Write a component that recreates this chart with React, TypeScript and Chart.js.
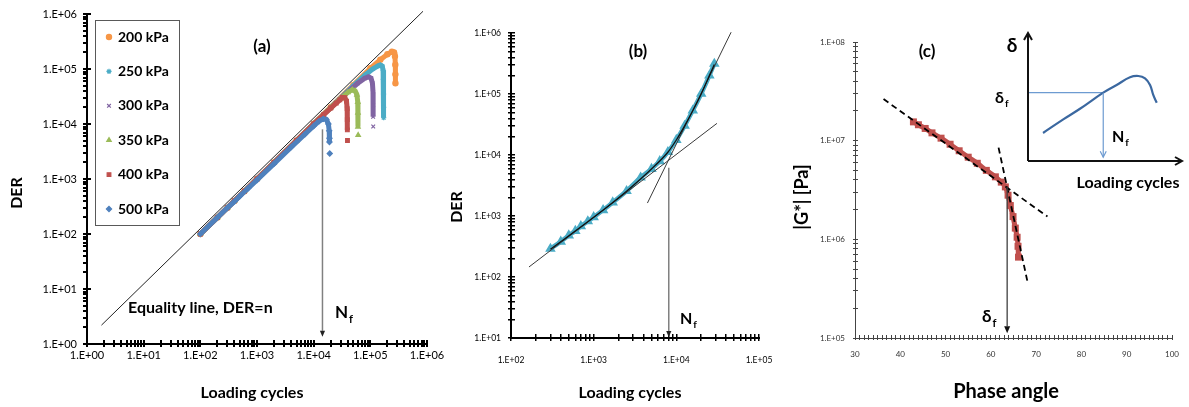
import React, { useEffect, useRef } from 'react';
import { Chart, registerables } from 'chart.js';
import { drawPoint } from 'chart.js/helpers';

Chart.register(...registerables);

const FONT = 'Lato, "Open Sans", "DejaVu Sans", sans-serif';

// ================= Panel (a) =================
const aSeriesNames = ['200 kPa', '250 kPa', '300 kPa', '350 kPa', '400 kPa', '500 kPa'];
const aSeriesColors = ['#F79646', '#4BACC6', '#8064A2', '#9BBB59', '#C0504D', '#4F81BD'];
const aSeriesMarkers = ['circle', 'star', 'crossRot', 'triangle', 'rect', 'rectRot'];

const cycles200 = [100, 200, 300, 400, 600, 1000, 2000, 5000, 10000, 20000, 50000, 100000, 150000, 200000, 240000, 262000, 272000, 276000, 277000, 277500];
const der200 = [100, 200, 300, 400, 600, 1000, 2000, 5000, 10100, 20300, 51000, 103000, 148000, 185000, 206000, 200000, 170000, 120000, 80000, 55000];

const cycles250 = [100, 200, 300, 400, 600, 1000, 2000, 5000, 10000, 20000, 50000, 80000, 110000, 135000, 150000, 162000, 168000, 170000, 171000, 171500, 172000];
const der250 = [100, 200, 300, 400, 600, 1000, 2000, 5000, 10000, 20000, 49500, 77000, 100000, 113000, 118000, 113000, 95000, 65000, 35000, 20000, 13000];

const cycles300 = [100, 200, 300, 400, 600, 1000, 2000, 5000, 10000, 20000, 40000, 60000, 80000, 93000, 103000, 109000, 111500, 112000, 112000, 112000, 112500];
const der300 = [100, 200, 300, 400, 600, 1000, 2000, 5000, 10000, 19800, 38500, 55000, 68000, 72000, 68000, 55000, 38000, 22000, 13500, null, 9000];

const cycles350 = [100, 200, 300, 400, 600, 1000, 2000, 5000, 10000, 20000, 30000, 40000, 48000, 54000, 58000, 60000, 60500, 60500, 60500, 61000];
const der350 = [100, 200, 300, 400, 600, 1000, 2000, 5000, 10000, 19800, 29000, 37500, 42000, 40000, 34000, 25000, 16000, 8900, null, 6300];

const cycles400 = [100, 200, 300, 400, 600, 1000, 2000, 5000, 10000, 15000, 20000, 25000, 29000, 32000, 35500, 38000, 39000, 39200, 39300, 39300, 39500];
const der400 = [100, 200, 300, 400, 600, 1000, 2000, 5000, 10000, 14800, 19500, 24000, 27500, 30500, 30000, 26000, 19000, 12000, 7800, null, 5000];

const cycles500 = [100, 200, 300, 400, 500, 700, 1000, 2000, 4000, 7000, 10000, 12500, 14800, 16800, 18200, 18800, 19000, 19000, 19000, 19200];
const der500 = [100, 200, 300, 390, 490, 680, 960, 1900, 3800, 6500, 9200, 11300, 12400, 12000, 10000, 7500, 5500, 4700, null, 2900];

const aCycles = [cycles200, cycles250, cycles300, cycles350, cycles400, cycles500];
const aDer = [der200, der250, der300, der350, der400, der500];

const eqCycles = [1.8, 850000];
const eqDer = [2.2, 1120000];

const aNf = 14300;
const aNfArrowFrom = 8000;
const aNfArrowTo = 1.35;

const aAxisLabels = ['1.E+00', '1.E+01', '1.E+02', '1.E+03', '1.E+04', '1.E+05', '1.E+06'];

// ================= Panel (b) =================
const bCycles = [300, 400, 500, 600, 700, 850, 1000, 1300, 1700, 2500, 3700, 5000, 6300, 7900, 10000, 12600, 15800, 20000, 25100, 28800];
const bDer = [290, 380, 480, 570, 680, 820, 955, 1250, 1670, 2570, 4270, 5930, 7910, 11200, 17700, 30100, 53500, 101000, 201000, 313000];

const bFitCycles = [300, 1000, 2500, 5000, 7900, 10000, 12600, 15800, 20000, 25100, 28800];
const bFitDer = [285, 950, 2550, 5900, 11100, 17600, 30000, 53000, 100000, 200000, 305000];

const bTangent1Cycles = [165, 31000];
const bTangent1Der = [146, 33000];
const bTangent2Cycles = [4470, 46000];
const bTangent2Der = [1630, 1030000];

const bNf = 8100;
const bNfArrowFrom = 6200;
const bNfArrowTo = 10.4;

const bXLabels = ['1.E+02', '1.E+03', '1.E+04', '1.E+05'];
const bYLabels = ['1.E+01', '1.E+02', '1.E+03', '1.E+04', '1.E+05', '1.E+06'];

// ================= Panel (c) =================
const cPhase = [42.9, 44, 45.5, 47, 49, 51, 53, 55, 57, 59, 61, 62.3, 63.2, 63.8, 64.3, 64.9, 65.4, 65.8, 66.0, 66.1];
const cModulus = [1.55e7, 1.45e7, 1.33e7, 1.2e7, 1.06e7, 9.2e6, 7.9e6, 6.8e6, 5.9e6, 5.0e6, 4.3e6, 3.8e6, 3.4e6, 2.8e6, 2.2e6, 1.7e6, 1.3e6, 1.05e6, 8.5e5, 6.6e5];

const cFitAPhase = [36.3, 72.5];
const cFitAModulus = [2.64e7, 1.7e6];
const cFitBPhase = [61.7, 68.1];
const cFitBModulus = [8.5e6, 3.7e5];

const cDeltaF = 63.6;
const cArrowFrom = 3.4e6;
const cArrowTo = 1.12e5;

const cXLabels = ['30', '40', '50', '60', '70', '80', '90', '100'];
const cYLabels = ['1.E+05', '1.E+06', '1.E+07', '1.E+08'];

// ================= Inset =================
const insetCycles = [0.99, 2.32, 3.42, 4.95, 5.83, 6.71, 7.26, 7.7, 8.03, 8.24, 8.47];
const insetDelta = [2.19, 3.25, 4.08, 5.34, 5.94, 6.54, 6.64, 6.46, 5.94, 5.16, 4.55];
const insetNf = 4.95;
const insetDeltaF = 5.34;
const insetGuideX = [0, insetNf];
const insetGuideY = [insetDeltaF, insetDeltaF];

// ================= helpers =================
type Txt = {
  text: string;
  sub?: string;
  x: number;
  y: number;
  size: number;
  bold?: boolean;
  rot?: number;
  align?: 'left' | 'center' | 'right';
  color?: string;
};

function drawTexts(ctx: CanvasRenderingContext2D, items: Txt[]) {
  items.forEach((it) => {
    ctx.save();
    ctx.translate(it.x, it.y);
    if (it.rot) ctx.rotate(it.rot);
    const weight = it.bold === false ? '' : 'bold ';
    const mainFont = `${weight}${it.size}px ${FONT}`;
    const subSize = Math.round(it.size * 0.65);
    const subFont = `${weight}${subSize}px ${FONT}`;
    ctx.font = mainFont;
    const w = ctx.measureText(it.text).width;
    let sw = 0;
    if (it.sub) {
      ctx.font = subFont;
      sw = ctx.measureText(it.sub).width + 1;
    }
    const total = w + sw;
    const start = it.align === 'center' ? -total / 2 : it.align === 'right' ? -total : 0;
    ctx.fillStyle = it.color || '#000';
    ctx.textBaseline = 'middle';
    ctx.textAlign = 'left';
    ctx.font = mainFont;
    ctx.fillText(it.text, start, 0);
    if (it.sub) {
      ctx.font = subFont;
      ctx.fillText(it.sub, start + w + 1, it.size * 0.38);
    }
    ctx.restore();
  });
}

function drawArrow(
  ctx: CanvasRenderingContext2D,
  x0: number, y0: number, x1: number, y1: number,
  color: string, width: number, headColor: string,
  headLen = 7, headHalf = 3.2, open = false,
) {
  const ang = Math.atan2(y1 - y0, x1 - x0);
  const bx = x1 - headLen * Math.cos(ang);
  const by = y1 - headLen * Math.sin(ang);
  ctx.save();
  ctx.strokeStyle = color;
  ctx.lineWidth = width;
  ctx.beginPath();
  ctx.moveTo(x0, y0);
  ctx.lineTo(open ? x1 : bx, open ? y1 : by);
  ctx.stroke();
  const lx = bx + headHalf * Math.sin(ang);
  const ly = by - headHalf * Math.cos(ang);
  const rx = bx - headHalf * Math.sin(ang);
  const ry = by + headHalf * Math.cos(ang);
  if (open) {
    ctx.strokeStyle = headColor;
    ctx.beginPath();
    ctx.moveTo(lx, ly);
    ctx.lineTo(x1, y1);
    ctx.lineTo(rx, ry);
    ctx.stroke();
  } else {
    ctx.fillStyle = headColor;
    ctx.beginPath();
    ctx.moveTo(x1, y1);
    ctx.lineTo(lx, ly);
    ctx.lineTo(rx, ry);
    ctx.closePath();
    ctx.fill();
  }
  ctx.restore();
}

function logTickValues(minExp: number, maxExp: number) {
  const out: number[] = [];
  for (let e = minExp; e < maxExp; e++) {
    for (let m = 1; m < 10; m++) out.push(m * Math.pow(10, e));
  }
  out.push(Math.pow(10, maxExp));
  return out;
}

function isDecade(v: number) {
  const l = Math.log10(v);
  return Math.abs(l - Math.round(l)) < 1e-9;
}

function decadeLabel(v: number, labels: string[], minExp: number) {
  if (!isDecade(v)) return '';
  const e = Math.round(Math.log10(v));
  return labels[e - minExp] ?? '';
}

function fixSize(width?: number, height?: number) {
  return (s: any) => {
    if (width !== undefined) s.width = width;
    if (height !== undefined) s.height = height;
    s.paddingLeft = 0;
    s.paddingRight = 0;
    s.paddingTop = 0;
    s.paddingBottom = 0;
  };
}

// native Chart.js tick marks only (no grid lines on the chart area)
const tickGrid = (color: string, len: number, width: number) => ({
  display: true,
  drawOnChartArea: false,
  drawTicks: true,
  tickLength: len,
  color,
  tickColor: color,
  tickWidth: width,
  lineWidth: width,
});

function logAxis(o: {
  min: number; max: number; minExp: number; maxExp: number; labels: string[];
  size: number; padding: number; width?: number; height?: number; color: string;
  tickColor: string; tickLen: number; tickWidth: number;
}) {
  const values = logTickValues(o.minExp, o.maxExp);
  return {
    type: 'logarithmic',
    min: o.min,
    max: o.max,
    grid: tickGrid(o.tickColor, o.tickLen, o.tickWidth),
    border: { display: false },
    ticks: {
      autoSkip: false,
      maxRotation: 0,
      minRotation: 0,
      padding: o.padding,
      color: o.color,
      font: { family: FONT, size: o.size },
      callback: (v: number) => decadeLabel(Number(v), o.labels, o.minExp),
    },
    afterBuildTicks: (s: any) => {
      s.ticks = values.map((value) => ({ value }));
    },
    afterFit: fixSize(o.width, o.height),
  };
}

type AxisSide = { values: number[]; majIn: number; minIn: number; major: 'decade' | 'ten' };
type AxisCfg = { color: string; axisWidth: number; tickWidth: number; x: AxisSide; y: AxisSide };

function isMajorTick(v: number, kind: 'decade' | 'ten') {
  return kind === 'decade' ? isDecade(v) : Math.abs(v % 10) < 1e-9;
}

// axis lines plus the inward half of the tick marks
function drawAxes(chart: any, cfg: AxisCfg) {
  const ctx: CanvasRenderingContext2D = chart.ctx;
  const ca = chart.chartArea;
  const xs = chart.scales.x;
  const ys = chart.scales.y;
  const tw = cfg.tickWidth;
  const aw = cfg.axisWidth;
  ctx.save();
  ctx.fillStyle = cfg.color;
  ctx.fillRect(Math.round(ca.left - aw / 2), ca.top, aw, ca.bottom - ca.top + aw / 2);
  ctx.fillRect(Math.round(ca.left - aw / 2), Math.round(ca.bottom - aw / 2), ca.right - ca.left + aw, aw);
  cfg.x.values.forEach((v) => {
    const px = Math.round(xs.getPixelForValue(v) - tw / 2);
    const up = isMajorTick(v, cfg.x.major) ? cfg.x.majIn : cfg.x.minIn;
    if (up > 0) ctx.fillRect(px, Math.round(ca.bottom - up), tw, Math.round(up));
  });
  cfg.y.values.forEach((v) => {
    const py = Math.round(ys.getPixelForValue(v) - tw / 2);
    const inn = isMajorTick(v, cfg.y.major) ? cfg.y.majIn : cfg.y.minIn;
    if (inn > 0) ctx.fillRect(Math.round(ca.left), py, Math.round(inn), tw);
  });
  ctx.restore();
}

function overlayPlugin(draw: (chart: any) => void) {
  return { id: 'overlayDraw', afterDraw: draw };
}

const baseOptions = (padding: any) => ({
  animation: false,
  responsive: false,
  maintainAspectRatio: false,
  events: [],
  layout: { padding },
  plugins: { legend: { display: false }, tooltip: { enabled: false }, title: { display: false } },
});

const pairs = (xs: number[], ys: (number | null)[]) => xs.map((x, i) => ({ x, y: ys[i] }));

// ================= chart builders =================
function buildA(canvas: HTMLCanvasElement) {
  const drawOrder = [5, 4, 3, 2, 1, 0];
  const datasets: any[] = [
    {
      label: 'Equality line, DER=n',
      data: pairs(eqCycles, eqDer),
      borderColor: '#222',
      borderWidth: 1,
      pointRadius: 0,
      clip: false,
    },
  ];
  drawOrder.forEach((s) => {
    datasets.push({
      label: aSeriesNames[s],
      data: pairs(aCycles[s], aDer[s]),
      borderColor: aSeriesColors[s],
      backgroundColor: aSeriesColors[s],
      borderWidth: 5,
      pointRadius: 2.6,
      pointStyle: aSeriesMarkers[s],
      pointBorderWidth: 1.2,
      pointBackgroundColor: aSeriesColors[s],
      pointBorderColor: aSeriesColors[s],
      spanGaps: false,
    });
  });

  const texts: Txt[] = [
    { text: '(a)', x: 262, y: 47, size: 17, align: 'center' },
    { text: 'DER', x: 17, y: 193, size: 16, align: 'center', rot: -Math.PI / 2 },
    { text: 'Loading cycles', x: 252, y: 393, size: 16, align: 'center' },
    { text: 'Equality line, DER=n', x: 128, y: 308, size: 16 },
    { text: 'N', sub: 'f', x: 335, y: 313, size: 17 },
  ];
  const tickValues = logTickValues(0, 6);
  const axisCfg: AxisCfg = {
    color: '#000', axisWidth: 2, tickWidth: 2,
    x: { values: tickValues, majIn: 4, minIn: 4, major: 'decade' },
    y: { values: tickValues, majIn: 4, minIn: 0, major: 'decade' },
  };

  return new Chart(canvas, {
    type: 'line',
    data: { datasets },
    options: {
      ...baseOptions({ left: 0, top: 14, right: 28, bottom: 0 }),
      scales: {
        x: logAxis({ min: 1, max: 1e6, minExp: 0, maxExp: 6, labels: aAxisLabels, size: 11, padding: 2, height: 63, color: '#000', tickColor: '#000', tickLen: 3, tickWidth: 2 }),
        y: logAxis({ min: 1, max: 1e6, minExp: 0, maxExp: 6, labels: aAxisLabels, size: 11, padding: 6, width: 87, color: '#000', tickColor: '#000', tickLen: 4, tickWidth: 2 }),
      },
    } as any,
    plugins: [
      overlayPlugin((chart: any) => {
        drawAxes(chart, axisCfg);
        const { ctx, scales } = chart;
        const px = scales.x.getPixelForValue(aNf);
        drawArrow(ctx, px, scales.y.getPixelForValue(aNfArrowFrom), px, scales.y.getPixelForValue(aNfArrowTo), '#808080', 1.5, '#222', 6, 2.6);
        // legend
        ctx.save();
        ctx.strokeStyle = '#595959';
        ctx.lineWidth = 1;
        ctx.strokeRect(95.5, 20.5, 84, 205);
        aSeriesNames.forEach((name, i) => {
          const cy = 37 + i * 34.4;
          ctx.fillStyle = aSeriesColors[i];
          ctx.strokeStyle = aSeriesColors[i];
          ctx.lineWidth = 1.2;
          drawPoint(ctx, { pointStyle: aSeriesMarkers[i] as any, radius: 2.6, rotation: 0, borderWidth: 1.2 } as any, 109, cy);
          drawTexts(ctx, [{ text: name, x: 118, y: cy, size: 14 }]);
        });
        ctx.restore();
        drawTexts(ctx, texts);
      }),
    ],
  });
}

function buildB(canvas: HTMLCanvasElement) {
  const datasets: any[] = [
    {
      label: 'Fit',
      data: pairs(bFitCycles, bFitDer),
      borderColor: '#111',
      borderWidth: 1.3,
      pointRadius: 0,
      cubicInterpolationMode: 'monotone',
    },
    {
      label: 'Tangent 1',
      data: pairs(bTangent1Cycles, bTangent1Der),
      borderColor: '#3a3a3a',
      borderWidth: 1,
      pointRadius: 0,
      clip: false,
    },
    {
      label: 'Tangent 2',
      data: pairs(bTangent2Cycles, bTangent2Der),
      borderColor: '#3a3a3a',
      borderWidth: 1,
      pointRadius: 0,
      clip: false,
    },
    {
      label: 'DER',
      data: pairs(bCycles, bDer),
      borderColor: '#4BACC6',
      backgroundColor: '#4BACC6',
      borderWidth: 4.5,
      pointRadius: 1.6,
      pointStyle: 'triangle',
      pointBackgroundColor: '#4BACC6',
      pointBorderColor: '#4BACC6',
      cubicInterpolationMode: 'monotone',
    },
  ];
  const texts: Txt[] = [
    { text: '(b)', x: 198, y: 52, size: 17, align: 'center' },
    { text: 'DER', x: 17, y: 207, size: 16, align: 'center', rot: -Math.PI / 2 },
    { text: 'Loading cycles', x: 190, y: 393, size: 16, align: 'center' },
    { text: 'N', sub: 'f', x: 240, y: 319, size: 16 },
  ];
  const axisCfg: AxisCfg = {
    color: '#000', axisWidth: 2, tickWidth: 1.5,
    x: { values: logTickValues(2, 5), majIn: 4, minIn: 4, major: 'decade' },
    y: { values: logTickValues(1, 6), majIn: 4, minIn: 4, major: 'decade' },
  };
  return new Chart(canvas, {
    type: 'line',
    data: { datasets },
    options: {
      ...baseOptions({ left: 0, top: 33, right: 21, bottom: 0 }),
      scales: {
        x: logAxis({ min: 100, max: 1e5, minExp: 2, maxExp: 5, labels: bXLabels, size: 8.5, padding: 14, height: 69, color: '#000', tickColor: '#000', tickLen: 3, tickWidth: 1.5 }),
        y: logAxis({ min: 10, max: 1e6, minExp: 1, maxExp: 6, labels: bYLabels, size: 8.5, padding: 7, width: 71, color: '#000', tickColor: '#000', tickLen: 3, tickWidth: 1.5 }),
      },
    } as any,
    plugins: [
      overlayPlugin((chart: any) => {
        drawAxes(chart, axisCfg);
        const { ctx, scales } = chart;
        const px = scales.x.getPixelForValue(bNf);
        drawArrow(ctx, px, scales.y.getPixelForValue(bNfArrowFrom), px, scales.y.getPixelForValue(bNfArrowTo), '#7f7f7f', 1.5, '#222', 6, 2.6);
        drawTexts(ctx, texts);
      }),
    ],
  });
}

function buildC(canvas: HTMLCanvasElement) {
  const xValues: number[] = [];
  for (let v = 30; v <= 100; v++) xValues.push(v);
  const datasets: any[] = [
    {
      label: 'Fit A',
      data: pairs(cFitAPhase, cFitAModulus),
      borderColor: '#000',
      borderWidth: 1.8,
      borderDash: [6, 4],
      pointRadius: 0,
    },
    {
      label: 'Fit B',
      data: pairs(cFitBPhase, cFitBModulus),
      borderColor: '#000',
      borderWidth: 1.8,
      borderDash: [6, 4],
      pointRadius: 0,
    },
    {
      label: '|G*|',
      data: pairs(cPhase, cModulus),
      borderColor: '#C0504D',
      backgroundColor: '#C0504D',
      borderWidth: 5,
      pointRadius: 1.4,
      pointStyle: 'rect',
      pointBackgroundColor: '#C0504D',
      pointBorderColor: '#C0504D',
      cubicInterpolationMode: 'monotone',
    },
  ];
  const texts: Txt[] = [
    { text: '(c)', x: 147, y: 52, size: 17, align: 'center' },
    { text: '|G*| [Pa]', x: 22, y: 197, size: 18, align: 'center', rot: -Math.PI / 2 },
    { text: 'Phase angle', x: 226, y: 392, size: 20, align: 'center' },
    { text: 'δ', sub: 'f', x: 202, y: 317, size: 17 },
  ];
  const axisCfg: AxisCfg = {
    color: '#444', axisWidth: 1, tickWidth: 1,
    x: { values: xValues, majIn: 3, minIn: 3, major: 'ten' },
    y: { values: logTickValues(5, 8), majIn: 3, minIn: 3, major: 'decade' },
  };
  return new Chart(canvas, {
    type: 'line',
    data: { datasets },
    options: {
      ...baseOptions({ left: 0, top: 42, right: 17, bottom: 0 }),
      scales: {
        x: {
          type: 'linear',
          min: 30,
          max: 100,
          grid: tickGrid('#444', 2, 1),
          border: { display: false },
          ticks: {
            autoSkip: false,
            maxRotation: 0,
            minRotation: 0,
            padding: 10,
            color: '#333',
            font: { family: FONT, size: 8 },
            callback: (v: number) => (Number(v) % 10 === 0 ? cXLabels[(Number(v) - 30) / 10] : ''),
          },
          afterBuildTicks: (s: any) => {
            s.ticks = xValues.map((value) => ({ value }));
          },
          afterFit: fixSize(undefined, 69),
        },
        y: logAxis({ min: 1e5, max: 1e8, minExp: 5, maxExp: 8, labels: cYLabels, size: 8, padding: 8, width: 75, color: '#333', tickColor: '#444', tickLen: 2, tickWidth: 1 }),
      },
    } as any,
    plugins: [
      overlayPlugin((chart: any) => {
        drawAxes(chart, axisCfg);
        const { ctx, scales } = chart;
        const px = scales.x.getPixelForValue(cDeltaF);
        drawArrow(ctx, px, scales.y.getPixelForValue(cArrowFrom), px, scales.y.getPixelForValue(cArrowTo), '#404040', 1.3, '#111', 7, 3);
        drawTexts(ctx, texts);
      }),
    ],
  });
}

function buildInset(canvas: HTMLCanvasElement) {
  const datasets: any[] = [
    {
      label: 'δ',
      data: pairs(insetCycles, insetDelta),
      borderColor: '#3B68A0',
      borderWidth: 2.2,
      pointRadius: 0,
      tension: 0.4,
    },
    {
      label: 'δf',
      data: pairs(insetGuideX, insetGuideY),
      borderColor: '#6D9BD1',
      borderWidth: 1.2,
      pointRadius: 0,
    },
  ];
  const texts: Txt[] = [
    { text: 'δ', x: 27, y: 26, size: 19, align: 'center' },
    { text: 'δ', sub: 'f', x: 10, y: 78, size: 16 },
    { text: 'N', sub: 'f', x: 127, y: 117, size: 16 },
    { text: 'Loading cycles', x: 143, y: 163, size: 16, align: 'center' },
  ];
  return new Chart(canvas, {
    type: 'line',
    data: { datasets },
    options: {
      ...baseOptions({ left: 43, top: 13, right: 9, bottom: 44 }),
      scales: {
        x: { type: 'linear', min: 0, max: 10, display: false },
        y: { type: 'linear', min: 0, max: 10, display: false },
      },
    } as any,
    plugins: [
      overlayPlugin((chart: any) => {
        const { ctx, chartArea: ca, scales } = chart;
        drawArrow(ctx, ca.left, ca.bottom, ca.left, ca.top, '#111', 2, '#111', 7, 4, true);
        drawArrow(ctx, ca.left, ca.bottom, ca.right + 2, ca.bottom, '#111', 2, '#111', 7, 4, true);
        const px = scales.x.getPixelForValue(insetNf);
        drawArrow(ctx, px, scales.y.getPixelForValue(insetDeltaF), px, scales.y.getPixelForValue(0.3), '#6D9BD1', 1.2, '#6D9BD1', 6, 3, true);
        drawTexts(ctx, texts);
      }),
    ],
  });
}

export default function App() {
  const refA = useRef<HTMLCanvasElement>(null);
  const refB = useRef<HTMLCanvasElement>(null);
  const refC = useRef<HTMLCanvasElement>(null);
  const refD = useRef<HTMLCanvasElement>(null);

  useEffect(() => {
    const charts: Chart[] = [];
    if (refA.current) charts.push(buildA(refA.current));
    if (refB.current) charts.push(buildB(refB.current));
    if (refC.current) charts.push(buildC(refC.current));
    if (refD.current) charts.push(buildInset(refD.current));
    return () => charts.forEach((c) => c.destroy());
  }, []);

  const pos = (l: number, t: number, w: number, h: number): React.CSSProperties => ({
    position: 'absolute', left: l, top: t, width: w, height: h,
  });

  return (
    <div style={{ position: 'absolute', left: 0, top: 0, width: 1189, height: 407, background: '#fff', overflow: 'hidden' }}>
      <canvas ref={refA} width={455} height={407} style={pos(0, 0, 455, 407)} />
      <canvas ref={refB} width={340} height={407} style={pos(440, 0, 340, 407)} />
      <canvas ref={refC} width={409} height={407} style={pos(780, 0, 409, 407)} />
      <canvas ref={refD} width={204} height={185} style={pos(985, 20, 204, 185)} />
    </div>
  );
}
